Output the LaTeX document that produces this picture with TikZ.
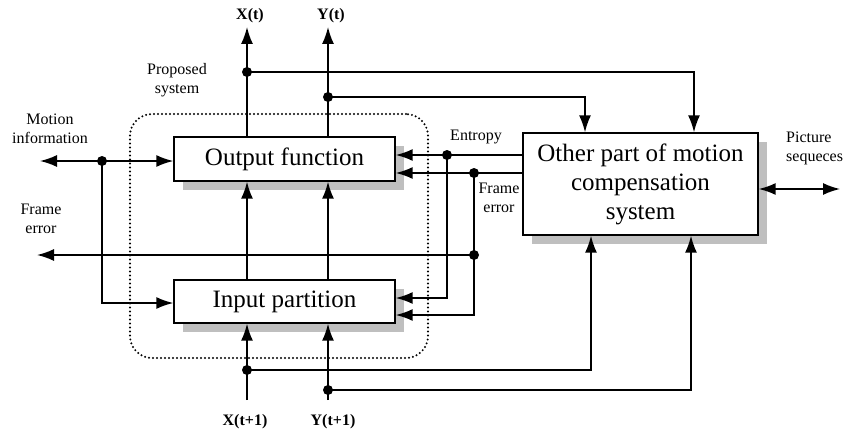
\documentclass[tikz,border=0pt]{standalone}
\usepackage{fontspec}
\setmainfont{Liberation Serif}
\usetikzlibrary{arrows.meta,shadows}
\begin{document}
\begin{tikzpicture}[x=1pt,y=-1pt,
  box/.style={draw,line width=1.4pt,fill=white,inner sep=0pt,
    font=\fontsize{25}{29}\selectfont,
    drop shadow={shadow xshift=9pt,shadow yshift=-9pt,fill=black!25,opacity=1}},
  ln/.style={line width=1.6pt},
  arr/.style={ln,-{Latex[length=17pt,width=12pt]}},
  dot/.style={circle,fill=black,inner sep=0pt,minimum size=10pt},
  lbl/.style={font=\fontsize{16}{19}\selectfont,align=center,inner sep=0pt},
  blbl/.style={font=\bfseries\fontsize{16}{19}\selectfont,inner sep=0pt}]
\useasboundingbox (0,0) rectangle (846,436);

% proposed system frame
\node[draw,rounded corners=22pt,minimum width=298pt,minimum height=244pt,
  line width=2.2pt,dash pattern=on 0pt off 4pt,line cap=round] (ps) at (279,236) {};

% boxes
\node[box,minimum width=221pt,minimum height=44pt] (of) at (284.5,159) {Output function};
\node[box,minimum width=221pt,minimum height=43pt] (ip) at (284.5,301.5) {Input partition};
\node[box,minimum width=235pt,minimum height=102pt,align=center] (op) at (640.5,184)
  {Other part of motion\\compensation\\system};

% coordinates
\coordinate (xo) at (247,27);  \coordinate (yo) at (328,27);
\coordinate (xi) at (247,400); \coordinate (yi) at (328,400);
\coordinate (dx) at (247,72);  \coordinate (dy) at (328,97);
\coordinate (kx) at (694,72);  \coordinate (ky) at (585,97);
\coordinate (dxi) at (247,370); \coordinate (dyi) at (328,390);
\coordinate (kxi) at (591,370); \coordinate (kyi) at (691,390);
\coordinate (dm) at (102,161); \coordinate (ml) at (40,161); \coordinate (mb) at (102,303);
\coordinate (de) at (447,155); \coordinate (deb) at (447,298);
\coordinate (df) at (474,173); \coordinate (dfb) at (474,315);
\coordinate (dfe) at (474,255); \coordinate (fl) at (37,255);
\coordinate (pr) at (840,189);

% connectors
\draw[arr] (dx |- of.north) -- (xo);
\draw[arr] (dy |- of.north) -- (yo);
\draw[arr] (dx) -- (kx) -- (kx |- op.north);
\draw[arr] (dy) -- (ky) -- (ky |- op.north);
\draw[arr] (dx |- ip.north) -- (dx |- of.south);
\draw[arr] (dy |- ip.north) -- (dy |- of.south);
\draw[arr] (xi) -- (xi |- ip.south);
\draw[arr] (yi) -- (yi |- ip.south);
\draw[arr] (dxi) -- (kxi) -- (kxi |- op.south);
\draw[arr] (dyi) -- (kyi) -- (kyi |- op.south);
\draw[arr] (dm) -- (ml);
\draw[arr] (dm) -- (dm -| of.west);
\draw[arr] (dm) -- (mb) -- (mb -| ip.west);
\draw[arr] (de -| op.west) -- (de -| of.east);
\draw[arr] (de) -- (deb) -- (deb -| ip.east);
\draw[arr] (df -| op.west) -- (df -| of.east);
\draw[arr] (df) -- (dfb) -- (dfb -| ip.east);
\draw[arr] (dfe) -- (fl);
\draw[ln,{Latex[length=17pt,width=12pt]}-{Latex[length=17pt,width=12pt]}] (pr -| op.east) -- (pr);

% junction dots
\node[dot] (jdx) at (dx) {};
\node[dot] (jdy) at (dy) {};
\node[dot] (jdxi) at (dxi) {};
\node[dot] (jdyi) at (dyi) {};
\node[dot] (jdm) at (dm) {};
\node[dot] (jde) at (de) {};
\node[dot] (jdf) at (df) {};
\node[dot] (jdfe) at (dfe) {};

% labels
\node[blbl] (lxt) at (250,16) {X(t)};
\node[blbl] (lyt) at (331,16) {Y(t)};
\node[blbl] (lxi) at (245,422) {X(t+1)};
\node[blbl] (lyi) at (333,422) {Y(t+1)};
\node[lbl] (lps) at (177,80) {Proposed\\system};
\node[lbl] (lmi) at (50,129) {Motion\\information};
\node[lbl] (lfe) at (41,219) {Frame\\error};
\node[lbl] (len) at (476,137) {Entropy};
\node[lbl] (lfe2) at (499,198) {Frame\\error};
\node[lbl,align=left,anchor=west] (lpic) at (786,148) {Picture\\sequeces};
\end{tikzpicture}
\end{document}
